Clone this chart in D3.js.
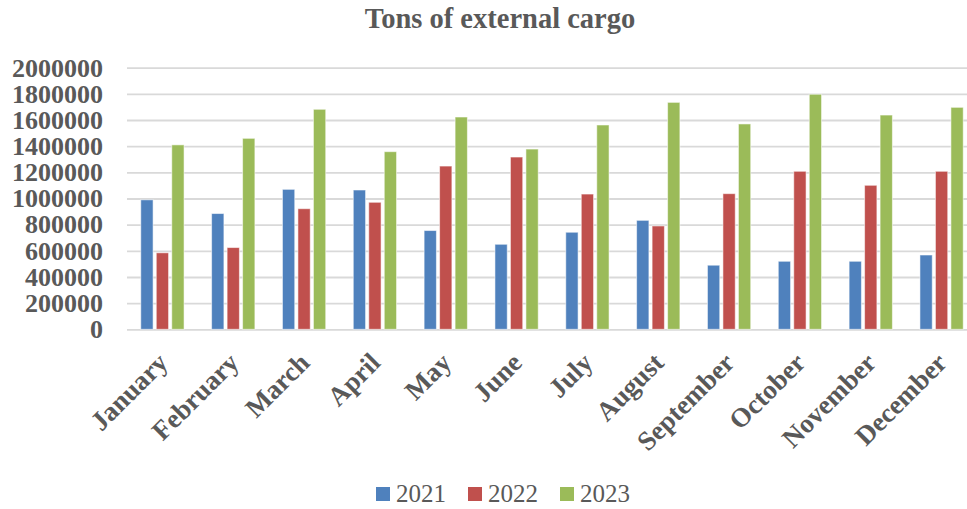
<!DOCTYPE html>
<html>
<head>
<meta charset="utf-8">
<script src="https://cdn.jsdelivr.net/npm/d3@7"></script>
<style>
  html, body { margin: 0; padding: 0; background: #fff; }
  svg { display: block; }
</style>
</head>
<body>
<svg id="chart" width="967" height="509"></svg>
<script>
// Monthly tonnage of external cargo, three years side by side
const months = ["January", "February", "March", "April", "May", "June",
                "July", "August", "September", "October", "November", "December"];
const years = ["2021", "2022", "2023"];
const values2021 = [990000, 885000, 1070000, 1065000, 755000, 650000, 742000, 833000, 490000, 520000, 520000, 568000];
const values2022 = [585000, 625000, 922000, 971000, 1248000, 1317000, 1034000, 790000, 1037000, 1208000, 1101000, 1208000];
const values2023 = [1410000, 1460000, 1682000, 1358000, 1623000, 1378000, 1562000, 1735000, 1570000, 1797000, 1638000, 1697000];
const yTicks = [0, 200000, 400000, 600000, 800000, 1000000, 1200000, 1400000, 1600000, 1800000, 2000000];

const seriesValues = [values2021, values2022, values2023];
const colors = ["#4F81BD", "#C0504D", "#9BBB59"];
const textColor = "#595959";
const serif = "'Liberation Serif', 'Times New Roman', serif";

const svg = d3.select("#chart");
const W = 967, H = 509;
// the plot area runs a little past the right edge of the canvas
const plot = { left: 127, right: 977, top: 67.7, bottom: 329.3 };

const x = d3.scaleBand().domain(months).range([plot.left, plot.right]).paddingInner(0.389).paddingOuter(0.1945);
const xs = d3.scaleBand().domain(years).range([0, x.bandwidth()]).paddingInner(0.206);
const y = d3.scaleLinear().domain([0, 2000000]).range([plot.bottom, plot.top]);

// title
svg.append("text")
  .attr("x", 500).attr("y", 28)
  .attr("text-anchor", "middle")
  .attr("font-family", serif)
  .attr("font-weight", "bold")
  .attr("font-size", 28.5)
  .attr("fill", textColor)
  .text("Tons of external cargo");

// horizontal gridlines and value labels
const yAxis = d3.axisLeft(y).tickValues(yTicks).tickSize(-(plot.right - plot.left)).tickPadding(24).tickFormat(d3.format("d"));
const gy = svg.append("g").attr("transform", `translate(${plot.left},0)`).call(yAxis);
gy.select(".domain").remove();
gy.selectAll(".tick line").attr("stroke", "#d9d9d9").attr("stroke-width", 1.8);
gy.selectAll(".tick text")
  .attr("font-family", serif)
  .attr("font-weight", "bold")
  .attr("font-size", 26)
  .attr("fill", textColor);

// bars
const groups = svg.append("g").selectAll("g")
  .data(months)
  .join("g")
  .attr("transform", d => `translate(${x(d)},0)`);

groups.selectAll("rect")
  .data((m, i) => years.map((yr, k) => ({ yr, k, v: seriesValues[k][i] })))
  .join("rect")
  .attr("x", d => xs(d.yr))
  .attr("width", xs.bandwidth())
  .attr("y", d => y(d.v))
  .attr("height", d => y(0) - y(d.v))
  .attr("fill", d => colors[d.k])
  .attr("stroke", "#ffffff")
  .attr("stroke-opacity", 0.55)
  .attr("stroke-width", 1);

// rotated month labels
const xAxis = d3.axisBottom(x).tickSize(0).tickPadding(0);
const gx = svg.append("g").attr("transform", `translate(0,${plot.bottom})`).call(xAxis);
gx.select(".domain").remove();
gx.selectAll(".tick text")
  .attr("font-family", serif)
  .attr("font-weight", "bold")
  .attr("font-size", 27)
  .attr("fill", textColor)
  .attr("text-anchor", "end")
  .attr("y", 0)
  .attr("dy", null)
  .attr("transform", "translate(7,35) rotate(-45)");

// legend
const legendX = [376, 468, 560];
const legend = svg.append("g");
years.forEach((yr, k) => {
  legend.append("rect")
    .attr("x", legendX[k]).attr("y", 487)
    .attr("width", 14).attr("height", 14)
    .attr("fill", colors[k]);
  legend.append("text")
    .attr("x", legendX[k] + 20).attr("y", 502)
    .attr("font-family", serif)
    .attr("font-size", 25)
    .attr("fill", textColor)
    .text(yr);
});
</script>
</body>
</html>
